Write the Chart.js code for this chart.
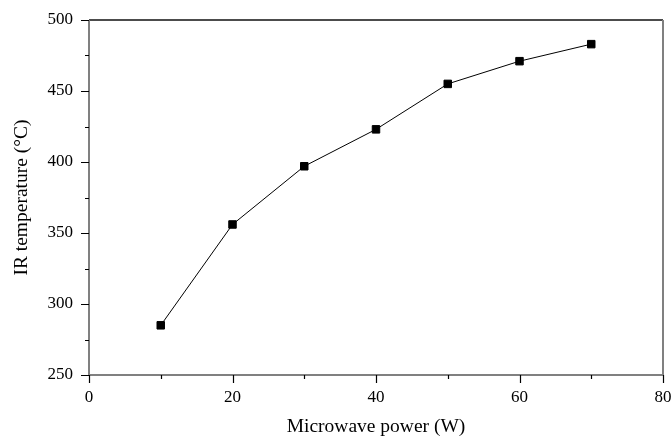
<!DOCTYPE html>
<html><head><meta charset="utf-8">
<script src="https://cdn.jsdelivr.net/npm/chart.js@4/dist/chart.umd.min.js"></script>
<style>html,body{margin:0;padding:0;background:#fff}#wrap{width:672px;height:439px}</style>
</head><body><div id="wrap"><canvas id="c" width="672" height="439"></canvas></div>
<script>
const powers = [10, 20, 30, 40, 50, 60, 70];
const temperatures = [285, 356, 397, 423, 455, 471, 483];
const xTicks = [0, 20, 40, 60, 80];
const yTicks = [250, 300, 350, 400, 450, 500];
const xTitle = 'Microwave power (W)';
const yTitle = 'IR temperature (\u00B0C)';

const FONT = 'Liberation Serif, Times New Roman, serif';

const framePlugin = {
  id: 'frame',
  afterDraw(chart) {
    const ctx = chart.ctx, a = chart.chartArea;
    const xs = chart.scales.x, ys = chart.scales.y;
    ctx.save();
    ctx.strokeStyle = '#111'; ctx.lineWidth = 1.5;
    ctx.beginPath(); ctx.moveTo(a.left, a.top); ctx.lineTo(a.right, a.top); ctx.stroke();
    ctx.strokeStyle = '#808080'; ctx.lineWidth = 2;
    ctx.beginPath();
    ctx.moveTo(a.left, a.top); ctx.lineTo(a.left, a.bottom); ctx.lineTo(a.right, a.bottom); ctx.lineTo(a.right, a.top);
    ctx.stroke();
    ctx.strokeStyle = '#000'; ctx.lineWidth = 1.2;
    ctx.beginPath();
    for (let v = xs.min; v <= xs.max + 1e-9; v += 10) {
      const px = Math.round(xs.getPixelForValue(v)) + 0.5;
      const len = (v % 20 === 0) ? 8 : 4;
      ctx.moveTo(px, a.bottom); ctx.lineTo(px, a.bottom + len);
    }
    for (let v = ys.min; v <= ys.max + 1e-9; v += 25) {
      const py = Math.round(ys.getPixelForValue(v)) + 0.5;
      const len = (v % 50 === 0) ? 8 : 4;
      ctx.moveTo(a.left, py); ctx.lineTo(a.left - len, py);
    }
    ctx.stroke();
    ctx.restore();
  }
};

new Chart(document.getElementById('c'), {
  type: 'scatter',
  data: {
    datasets: [{
      data: powers.map((p, i) => ({x: p, y: temperatures[i]})),
      showLine: true,
      borderColor: '#000',
      borderWidth: 1,
      backgroundColor: '#000',
      pointStyle: 'rect',
      pointRadius: 5.3,
      pointBorderWidth: 1,
      pointBorderColor: '#000',
      pointBackgroundColor: '#000'
    }]
  },
  options: {
    responsive: false,
    animation: false,
    devicePixelRatio: 1,
    layout: {padding: {top: 20, right: 9, left: 0, bottom: 0}},
    plugins: {legend: {display: false}, tooltip: {enabled: false}},
    scales: {
      x: {
        type: 'linear', min: 0, max: 80,
        afterBuildTicks(s) { s.ticks = xTicks.map(v => ({value: v})); },
        afterFit(s) { s.height = 64; s.paddingRight = 0; s.paddingLeft = 0; },
        grid: {display: true, drawOnChartArea: false, drawTicks: true, tickLength: 9, color: 'rgba(0,0,0,0)'},
        border: {display: false},
        ticks: {color: '#000', font: {family: FONT, size: 17}, padding: 3, maxRotation: 0},
        title: {display: true, text: xTitle, color: '#000', font: {family: FONT, size: 19.5}, padding: {top: 4, bottom: 0}}
      },
      y: {
        type: 'linear', min: 250, max: 500,
        afterBuildTicks(s) { s.ticks = yTicks.map(v => ({value: v})); },
        afterFit(s) { s.width = 89; },
        grid: {display: true, drawOnChartArea: false, drawTicks: true, tickLength: 9, color: 'rgba(0,0,0,0)'},
        border: {display: false},
        ticks: {color: '#000', font: {family: FONT, size: 17}, padding: 7},
        title: {display: true, text: yTitle, color: '#000', font: {family: FONT, size: 19.5}, padding: {top: 10, bottom: 4}}
      }
    }
  },
  plugins: [framePlugin]
});
</script></body></html>
